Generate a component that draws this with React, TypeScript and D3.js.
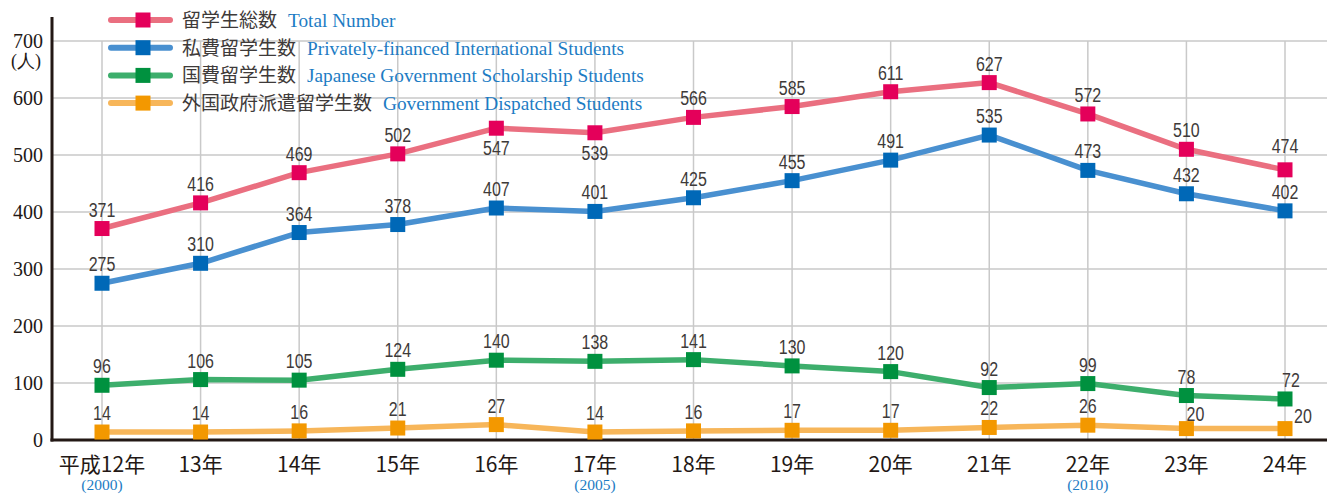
import React from "react";
import * as d3 from "d3";

const years = ["平成12年", "13年", "14年", "15年", "16年", "17年", "18年", "19年", "20年", "21年", "22年", "23年", "24年"];
const westernYears = ["(2000)", "", "", "", "", "(2005)", "", "", "", "", "(2010)", "", ""];

const totalNumber = [371, 416, 469, 502, 547, 539, 566, 585, 611, 627, 572, 510, 474];
const privatelyFinanced = [275, 310, 364, 378, 407, 401, 425, 455, 491, 535, 473, 432, 402];
const govScholarship = [96, 106, 105, 124, 140, 138, 141, 130, 120, 92, 99, 78, 72];
const govDispatched = [14, 14, 16, 21, 27, 14, 16, 17, 17, 22, 26, 20, 20];

const yTicks = [0, 100, 200, 300, 400, 500, 600, 700];

const seriesNamesJa = ["留学生総数", "私費留学生数", "国費留学生数", "外国政府派遣留学生数"];
const seriesNamesEn = [
  "Total Number",
  "Privately-financed International Students",
  "Japanese Government Scholarship Students",
  "Government Dispatched Students",
];

const series = [
  { values: totalNumber, line: "#ea6f80", marker: "#e4005a" },
  { values: privatelyFinanced, line: "#4990d0", marker: "#0068b7" },
  { values: govScholarship, line: "#3dae6c", marker: "#00913f" },
  { values: govDispatched, line: "#f7b65a", marker: "#f39800" },
];

// label nudges where the original moves a number off its default spot
const labelNudge: Record<string, [number, number]> = {
  "0-4": [0, 39],
  "0-5": [0, 39],
  "0-12": [0, -5],
  "2-12": [6, 0],
  "3-11": [9, 4],
  "3-12": [18, 6],
};

const W = 1327;
const H = 494;

export default function App() {
  const x = d3.scalePoint<string>().domain(years).range([102, 1285]);
  const y = d3.scaleLinear().domain([0, 700]).range([440, 41]);
  const line = d3
    .line<number>()
    .x((_, i) => x(years[i]) as number)
    .y((d) => y(d));

  const numFont = "'Liberation Sans', Arial, sans-serif";
  const serif = "'Liberation Serif', 'Times New Roman', serif";
  const gothic = "'Noto Sans CJK JP', 'Noto Sans', sans-serif";
  const mk = 15;

  return (
    <svg width={W} height={H} style={{ position: "absolute", left: 0, top: 0, background: "#fff" }}>
      {/* grid */}
      {yTicks.slice(1).map((t) => (
        <line key={"h" + t} x1={52} x2={W} y1={y(t)} y2={y(t)} stroke="#c9c9c9" strokeWidth={1.5} />
      ))}
      {years.map((yr) => (
        <line key={"v" + yr} x1={x(yr)} x2={x(yr)} y1={y(700)} y2={440} stroke="#c9c9c9" strokeWidth={1.5} />
      ))}

      {/* axes */}
      <line x1={52} x2={52} y1={17} y2={441.5} stroke="#231815" strokeWidth={3} />
      <line x1={50.5} x2={W} y1={440} y2={440} stroke="#231815" strokeWidth={3} />
      {yTicks.map((t) => (
        <text key={"yt" + t} x={43} y={y(t) + 7} textAnchor="end" fontFamily={serif} fontSize={20} fill="#231815">
          {t}
        </text>
      ))}
      <text x={26} y={67} textAnchor="middle" fontFamily={serif} fontSize={18} fill="#231815">
        (人)
      </text>
      {years.map((yr, i) => (
        <g key={"xt" + yr}>
          <text x={x(yr)} y={472} textAnchor="middle" fontFamily={gothic} fontSize={21} fill="#231815">
            {yr}
          </text>
          {westernYears[i] && (
            <text x={x(yr)} y={490} textAnchor="middle" fontFamily={serif} fontSize={15.5} fill="#1d7cc4">
              {westernYears[i]}
            </text>
          )}
        </g>
      ))}

      {/* lines */}
      {series.map((s, si) => (
        <path key={"l" + si} d={line(s.values) || ""} fill="none" stroke={s.line} strokeWidth={5.5} strokeLinejoin="round" />
      ))}
      {/* markers */}
      {series.map((s, si) =>
        s.values.map((v, i) => (
          <rect
            key={"m" + si + "-" + i}
            x={(x(years[i]) as number) - mk / 2}
            y={y(v) - mk / 2}
            width={mk}
            height={mk}
            fill={s.marker}
          />
        ))
      )}
      {/* value labels, narrowed to match the condensed face of the original */}
      {series.map((s, si) =>
        s.values.map((v, i) => {
          const n = labelNudge[si + "-" + i] || [0, 0];
          const lx = (x(years[i]) as number) + n[0];
          const ly = y(v) - 12 + n[1];
          return (
            <text
              key={"t" + si + "-" + i}
              transform={`translate(${lx},${ly}) scale(0.82,1)`}
              textAnchor="middle"
              fontFamily={numFont}
              fontSize={19.5}
              fill="#3e3a39"
            >
              {v}
            </text>
          );
        })
      )}

      {/* legend */}
      {series.map((s, si) => {
        const cy = 20 + si * 27.7;
        return (
          <g key={"lg" + si}>
            <line x1={111} x2={170} y1={cy} y2={cy} stroke={s.line} strokeWidth={6} strokeLinecap="round" />
            <rect x={143 - mk / 2} y={cy - mk / 2} width={mk} height={mk} fill={s.marker} />
            <text x={182} y={cy + 7} fontFamily={gothic} fontSize={19} fill="#3e3a39">
              {seriesNamesJa[si]}
              <tspan dx={11} fontFamily={serif} fontSize={19.3} fill="#1d7cc4">
                {seriesNamesEn[si]}
              </tspan>
            </text>
          </g>
        );
      })}
    </svg>
  );
}
